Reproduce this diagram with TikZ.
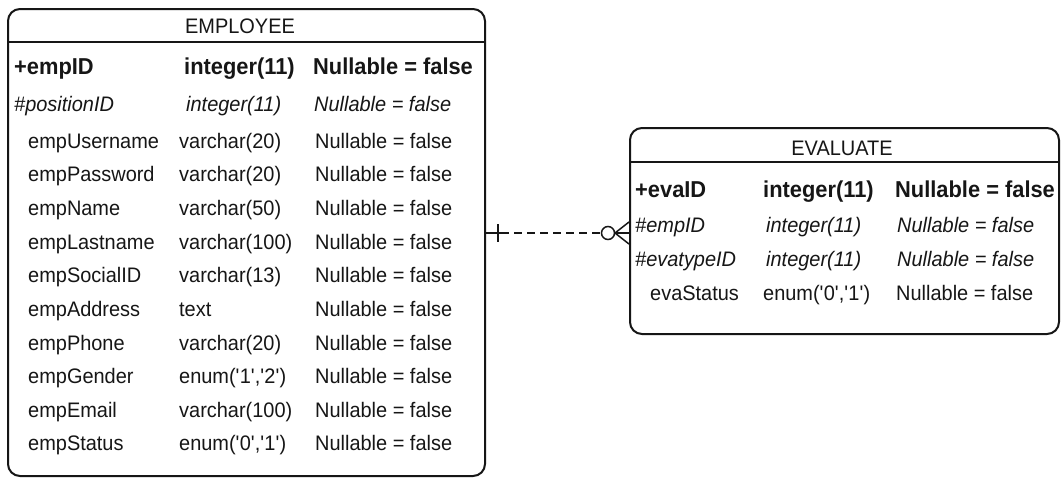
\documentclass[tikz,border=0pt]{standalone}
\usepackage{fontspec}
\setmainfont{Liberation Sans}[FakeStretch=0.95]
\usetikzlibrary{positioning,calc}
\definecolor{ink}{HTML}{161616}
\definecolor{paper}{HTML}{FFFFFF}
\tikzset{
  entity/.style={draw=ink, line width=2pt, rounded corners=12pt, anchor=north west,
                 inner sep=0pt},
  divider/.style={draw=ink, line width=2pt},
  tabletitle/.style={anchor=base, inner sep=0pt, text=ink, font=\fontsize{21}{25}\selectfont},
  cell/.style={anchor=base west, inner sep=0pt, text=ink, font=\fontsize{21}{25}\selectfont},
  keycell/.style={cell, font=\fontsize{23}{27}\selectfont\bfseries},
  fkcell/.style={cell, font=\fontsize{21}{25}\selectfont\itshape},
  relline/.style={draw=ink, line width=1.5pt},
  reldash/.style={relline, dash pattern=on 8pt off 5pt}
}
\newcommand{\q}{\textquotesingle}

\begin{document}
\begin{tikzpicture}[x=1pt,y=-1pt]
  \useasboundingbox[fill=paper] (0,0) rectangle (1062,483);

  % EMPLOYEE table
  \node[entity, minimum width=477pt, minimum height=467pt] (emp) at (7,8) {};
  \draw[divider] (7,42) -- (484,42);
  \node[tabletitle] (emp-title) at (240,33) {EMPLOYEE};

  \node[keycell] (emp-n1) at (14,74) {+empID};
  \node[keycell] (emp-t1) at (184,74) {integer(11)};
  \node[keycell] (emp-v1) at (313,74) {Nullable = false};

  \node[fkcell] (emp-n2) at (14,111) {\#positionID};
  \node[fkcell] (emp-t2) at (186,111) {integer(11)};
  \node[fkcell] (emp-v2) at (314,111) {Nullable = false};

  \foreach \n/\t/\y [count=\i from 3] in {
      empUsername/varchar(20)/148, empPassword/varchar(20)/181.6,
      empName/varchar(50)/215, empLastname/varchar(100)/249,
      empSocialID/varchar(13)/282, empAddress/text/316,
      empPhone/varchar(20)/350, empGender/{enum(\q1\q,\q2\q)}/383,
      empEmail/varchar(100)/417, empStatus/{enum(\q0\q,\q1\q)}/450} {
    \node[cell] (emp-n\i) at (28,\y) {\n};
    \node[cell] (emp-t\i) at (179,\y) {\t};
    \node[cell] (emp-v\i) at (315,\y) {Nullable = false};
  }

  % EVALUATE table
  \node[entity, minimum width=429pt, minimum height=206pt] (eva) at (629,127) {};
  \draw[divider] (629,162) -- (1058,162);
  \node[tabletitle] (eva-title) at (842,155) {EVALUATE};

  \node[keycell] (eva-n1) at (635,197) {+evaID};
  \node[keycell] (eva-t1) at (763,197) {integer(11)};
  \node[keycell] (eva-v1) at (895,197) {Nullable = false};

  \node[fkcell] (eva-n2) at (635,232) {\#empID};
  \node[fkcell] (eva-t2) at (766,232) {integer(11)};
  \node[fkcell] (eva-v2) at (897,232) {Nullable = false};

  \node[fkcell] (eva-n3) at (635,266) {\#evatypeID};
  \node[fkcell] (eva-t3) at (766,266) {integer(11)};
  \node[fkcell] (eva-v3) at (897,266) {Nullable = false};

  \node[cell] (eva-n4) at (650,300) {evaStatus};
  \node[cell] (eva-t4) at (763,300) {enum(\q0\q,\q1\q)};
  \node[cell] (eva-v4) at (896,300) {Nullable = false};

  % relation EMPLOYEE 1 -- 0..n EVALUATE
  \coordinate (fk) at (629,233);
  \coordinate (pk) at (emp.east |- fk);
  \draw[relline] (pk) -- ($(pk)+(15,0)$);
  \draw[relline] ($(pk)+(12,-9)$) -- ($(pk)+(12,9)$);
  \draw[reldash] ($(pk)+(15,0)$) -- ($(fk)+(-27.5,0)$);
  \draw[relline] ($(fk)+(-21,0)$) circle[radius=6.5];
  \draw[relline] ($(fk)+(0,-11)$) -- ($(fk)+(-14,0)$) -- ($(fk)+(0,11)$);
  \draw[relline] ($(fk)+(-14,0)$) -- (fk);
\end{tikzpicture}
\end{document}
